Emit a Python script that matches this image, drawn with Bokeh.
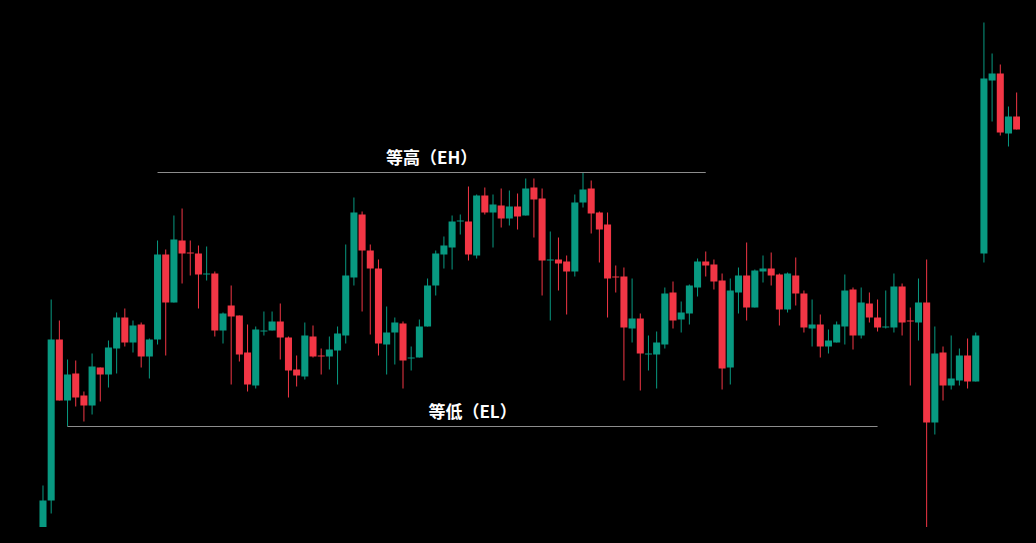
from bokeh.plotting import figure
from bokeh.models import Range1d, ColumnDataSource, GlobalInlineStyleSheet
from bokeh.core.properties import value
from bokeh.embed import file_html
from bokeh.resources import INLINE

# OHLC data (price units)
opens = [25, 100, 261, 200, 227, 205, 195, 233, 226, 252, 283, 258, 276, 244, 261, 346, 298, 360, 348, 347,
         326, 327, 270, 295, 285, 248, 215, 269, 270, 279, 263, 231, 224, 264, 245, 244, 250, 265, 323, 386,
         350, 332, 256, 268, 277, 242, 243, 274, 315, 346, 353, 379, 379, 345, 405, 388, 395, 382, 394, 385,
         413, 402, 340, 341, 339, 329, 398, 412, 388, 376, 324, 324, 272, 282, 246, 246, 256, 308, 281, 287,
         313, 339, 336, 320, 233, 308, 325, 293, 329, 332, 326, 291, 325, 307, 272, 276, 254, 258, 274, 311,
         265, 297, 283, 273, 273, 314, 280, 278, 298, 178, 248, 215, 220, 245, 219, 347, 520, 527, 467, 484,
         471, 485]
highs = [115, 301, 280, 241, 240, 209, 247, 233, 260, 288, 292, 280, 278, 262, 360, 351, 385, 392, 360, 355,
         354, 329, 288, 315, 285, 276, 274, 289, 289, 297, 264, 245, 278, 275, 252, 264, 274, 356, 403, 389,
         356, 341, 294, 283, 279, 254, 281, 322, 350, 364, 385, 386, 414, 406, 413, 406, 412, 410, 407, 422,
         422, 412, 369, 363, 345, 406, 428, 420, 389, 388, 335, 333, 322, 287, 265, 269, 313, 319, 299, 316,
         342, 349, 341, 327, 322, 333, 358, 331, 345, 348, 327, 328, 343, 310, 301, 286, 271, 279, 326, 313,
         313, 308, 301, 310, 327, 317, 293, 322, 341, 274, 254, 265, 252, 262, 268, 578, 547, 536, 494, 508,
         495, 520]
lows = [20, 87, 200, 174, 194, 179, 186, 199, 213, 227, 254, 248, 233, 222, 256, 245, 298, 317, 325, 292,
        320, 264, 257, 216, 239, 209, 212, 265, 270, 241, 203, 214, 221, 243, 226, 231, 216, 257, 315, 289,
        266, 245, 226, 236, 212, 230, 243, 274, 305, 332, 331, 366, 340, 342, 386, 353, 373, 375, 371, 385,
        363, 305, 280, 310, 286, 324, 393, 367, 338, 283, 308, 220, 258, 210, 230, 212, 252, 272, 268, 276,
        304, 324, 311, 211, 216, 287, 280, 293, 318, 315, 275, 288, 295, 268, 254, 243, 247, 258, 256, 251,
        262, 278, 269, 272, 268, 265, 215, 260, 64, 166, 200, 211, 215, 212, 219, 338, 479, 465, 454, 471,
        471, 485]
closes = [100, 261, 200, 226, 203, 195, 234, 226, 253, 283, 258, 275, 244, 261, 346, 298, 361, 347, 347, 326,
          327, 270, 287, 284, 246, 216, 271, 270, 279, 263, 230, 225, 265, 244, 244, 251, 267, 325, 388, 350,
          332, 257, 268, 278, 240, 243, 274, 315, 347, 355, 379, 380, 346, 405, 388, 396, 382, 394, 384, 412,
          401, 340, 341, 337, 329, 398, 411, 387, 371, 322, 323, 273, 282, 247, 247, 258, 307, 280, 288, 315,
          339, 335, 319, 232, 310, 325, 293, 330, 332, 325, 291, 327, 307, 273, 276, 254, 260, 276, 310, 265,
          298, 283, 273, 274, 314, 278, 279, 298, 178, 247, 215, 222, 245, 219, 265, 522, 527, 468, 484, 471,
          486, 505]

# Equal high / equal low reference levels
levels = [428, 174]
level_start = [14, 3]
level_end = [81, 102]
level_labels = ["等高（EH）", "等低（EL）"]

UP = "#089981"
DOWN = "#F23645"

idx = list(range(len(opens)))
colors = [UP if c >= o else DOWN for o, c in zip(opens, closes)]
src = ColumnDataSource(dict(
    x=idx, open=opens, high=highs, low=lows, close=closes,
    top=[max(o, c) for o, c in zip(opens, closes)],
    bottom=[min(o, c) for o, c in zip(opens, closes)],
    color=colors,
))

p = figure(width=1020, height=527,
           x_range=Range1d(-5.194, 119.47), y_range=Range1d(73, 600),
           output_backend="svg", toolbar_location=None, min_border=0,
           background_fill_color="#000000", border_fill_color="#000000")
p.axis.visible = False
p.grid.visible = False
p.outline_line_color = None
p.stylesheets = [GlobalInlineStyleSheet(css="html, body { background-color: #000000; }")]

p.segment(x0="x", y0="low", x1="x", y1="high", color="color", line_width=1, source=src)
p.vbar(x="x", top="top", bottom="bottom", width=0.86, fill_color="color",
       line_color=None, source=src)

lsrc = ColumnDataSource(dict(
    x0=level_start, x1=level_end, y=levels, label=level_labels,
    xm=[(a + b) / 2 for a, b in zip(level_start, level_end)],
    ym=[v + 16 for v in levels],
))
p.segment(x0="x0", y0="y", x1="x1", y1="y", line_color="#8c8c8c", line_width=1, source=lsrc)
p.text(x="xm", y="ym", text="label", source=lsrc, text_align="center",
       text_baseline="middle", text_color="#ffffff", text_font_size="17px",
       text_font_style="bold", text_font=value("Noto Sans CJK SC"))

open("out.html", "w").write(file_html(p, INLINE))
